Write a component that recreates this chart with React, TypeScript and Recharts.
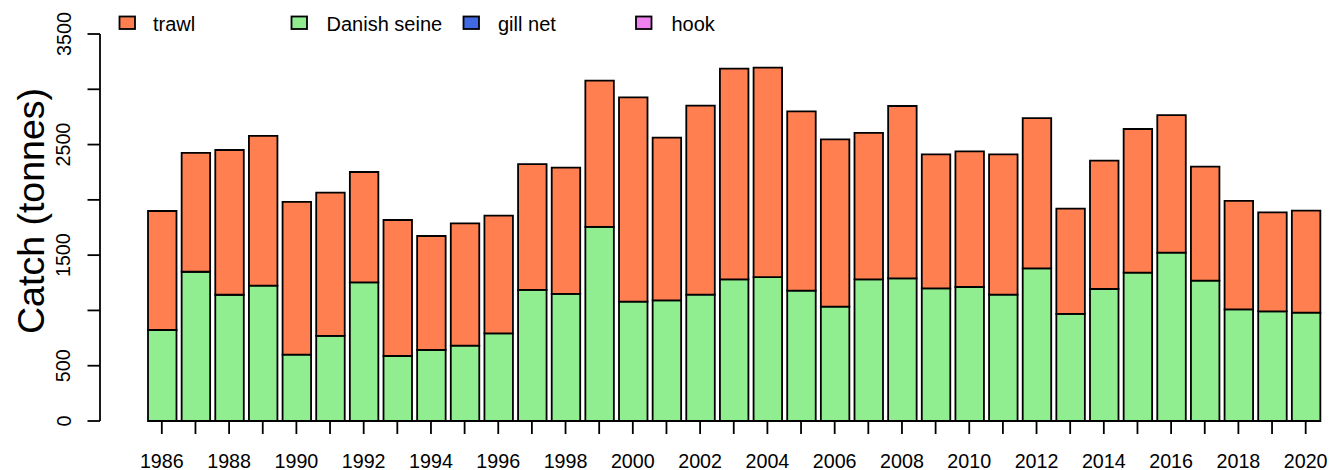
import React from 'react';
import { BarChart, Bar, XAxis, YAxis, Legend, ReferenceLine } from 'recharts';

const years = ['1986','1987','1988','1989','1990','1991','1992','1993','1994','1995','1996','1997','1998','1999','2000','2001','2002','2003','2004','2005','2006','2007','2008','2009','2010','2011','2012','2013','2014','2015','2016','2017','2018','2019','2020'];
const danishSeine = [823,1350,1142,1224,600,769,1254,588,642,681,793,1185,1149,1755,1079,1091,1143,1281,1302,1179,1034,1281,1290,1200,1212,1143,1381,968,1194,1341,1522,1269,1010,992,980];
const trawl = [1076,1074,1309,1354,1381,1296,998,1230,1031,1107,1064,1139,1142,1323,1848,1472,1709,1906,1894,1622,1513,1324,1559,1212,1227,1269,1359,952,1160,1300,1245,1031,980,895,922];
const gillNet = [0,0,0,0,0,0,0,0,0,0,0,0,0,0,0,0,0,0,0,0,0,0,0,0,0,0,0,0,0,0,0,0,0,0,0];
const hook = [0,0,0,0,0,0,0,0,0,0,0,0,0,0,0,0,0,0,0,0,0,0,0,0,0,0,0,0,0,0,0,0,0,0,0];

const yTicks = [0,500,1000,1500,2000,2500,3000,3500];
const yTickLabels = ['0','500','','1500','','2500','','3500'];

const seriesNames = ['trawl','Danish seine','gill net','hook'];
const seriesColors = ['#FF7F50','#90EE90','#4169E1','#EE82EE'];

const data = years.map((y, i) => ({
  year: y,
  danishSeine: danishSeine[i],
  gillNet: gillNet[i],
  hook: hook[i],
  trawl: trawl[i],
}));

const FONT = '"Liberation Sans", Arial, Helvetica, sans-serif';
const SW = 1.8;

const YTick = (props: any) => {
  const { y, payload } = props;
  const idx = yTicks.indexOf(payload.value);
  const label = idx >= 0 ? yTickLabels[idx] : '';
  if (!label) return null;
  const bx = 70.5;
  return (
    <text x={bx} y={y} transform={`rotate(-90, ${bx}, ${y})`} textAnchor="middle" fontSize={19.7} fontFamily={FONT} fill="#000">
      {label}
    </text>
  );
};

const XTick = (props: any) => {
  const { x, y, payload, index } = props;
  if (index % 2 !== 0) return null;
  return (
    <text x={x} y={y + 31.5} textAnchor="middle" fontSize={19.7} fontFamily={FONT} fill="#000">
      {payload.value}
    </text>
  );
};

const legendBoxX = [119.5, 291.5, 463.5, 636];
const legendTextX = [153, 326.5, 498, 671.5];

const LegendContent = () => (
  <svg width={800} height={40} style={{ display: 'block' }}>
    {seriesNames.map((name, i) => (
      <g key={name}>
        <rect x={legendBoxX[i]} y={16.5} width={15.5} height={12.5} fill={seriesColors[i]} stroke="#000" strokeWidth={SW} />
        <text x={legendTextX[i]} y={31} fontSize={20} fontFamily={FONT} fill="#000">{name}</text>
      </g>
    ))}
  </svg>
);

const YLabel = () => (
  <text x={43.5} y={211} transform="rotate(-90, 43.5, 211)" textAnchor="middle" fontSize={37.5} fontFamily={FONT} fill="#000">
    Catch (tonnes)
  </text>
);

export default function App() {
  return (
    <div style={{ position: 'absolute', left: 0, top: 0, width: 1331, height: 470, background: '#fff' }}>
      <BarChart width={1331} height={470} data={data} margin={{ top: 34, right: 8.5, bottom: 0, left: 0 }} barSize={28.5}>
        <XAxis
          dataKey="year"
          interval={0}
          height={49}
          tickSize={13}
          tickMargin={2}
          axisLine={false}
          tickLine={{ stroke: '#000', strokeWidth: SW }}
          padding={{ left: 45, right: 0 }}
          tick={<XTick />}
        />
        <YAxis
          type="number"
          domain={[0, 3500]}
          ticks={yTicks}
          interval={0}
          width={100}
          tickSize={12.5}
          axisLine={{ stroke: '#000', strokeWidth: SW }}
          tickLine={{ stroke: '#000', strokeWidth: SW }}
          tick={<YTick />}
          label={{ content: <YLabel /> }}
        />
        <Legend
          layout="vertical"
          align="center"
          verticalAlign="middle"
          wrapperStyle={{ top: 0, left: 0, width: 800, height: 40 }}
          content={<LegendContent />}
        />
        <ReferenceLine segment={[{ x: '1986', y: 0 }, { x: '2020', y: 0 }]} stroke="#000" strokeWidth={SW} />
        <Bar dataKey="danishSeine" name="Danish seine" stackId="a" fill={seriesColors[1]} stroke="#000" strokeWidth={SW} isAnimationActive={false} />
        <Bar dataKey="gillNet" name="gill net" stackId="a" fill={seriesColors[2]} stroke="#000" strokeWidth={SW} isAnimationActive={false} />
        <Bar dataKey="hook" name="hook" stackId="a" fill={seriesColors[3]} stroke="#000" strokeWidth={SW} isAnimationActive={false} />
        <Bar dataKey="trawl" name="trawl" stackId="a" fill={seriesColors[0]} stroke="#000" strokeWidth={SW} isAnimationActive={false} />
      </BarChart>
    </div>
  );
}
